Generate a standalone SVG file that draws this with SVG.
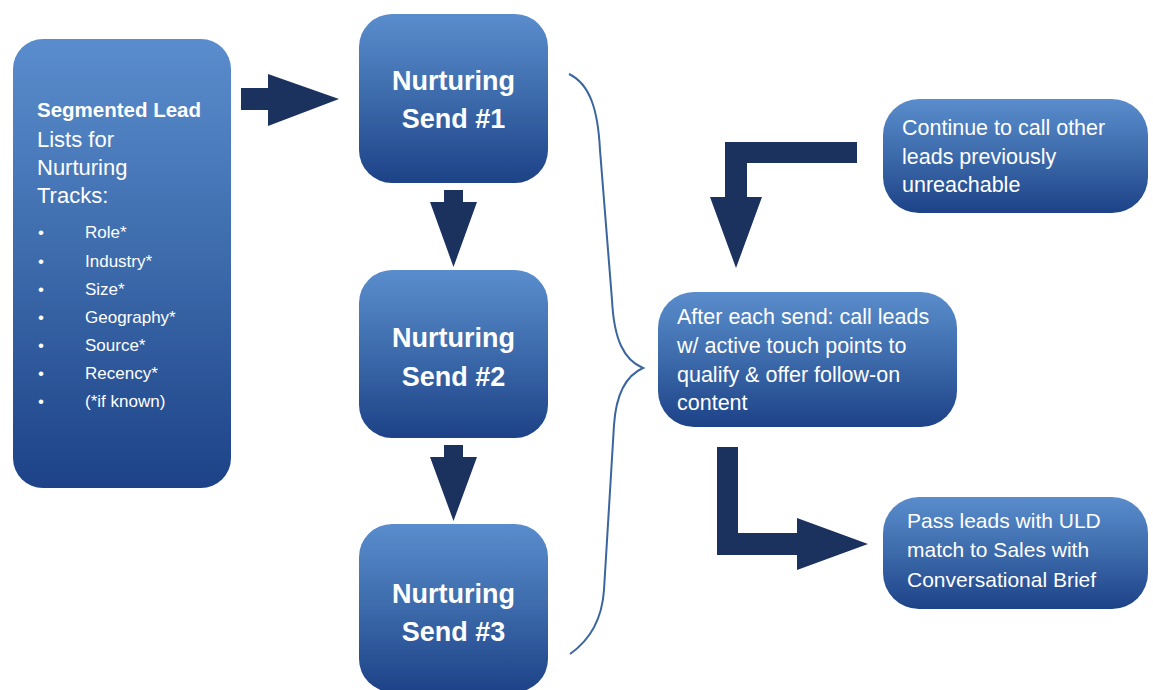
<svg xmlns="http://www.w3.org/2000/svg" width="1153" height="690" viewBox="0 0 1153 690">
<defs>
<linearGradient id="g" x1="0" y1="0" x2="0" y2="1">
<stop offset="0" stop-color="#5a8dcd"/>
<stop offset="0.5" stop-color="#3c6aab"/>
<stop offset="1" stop-color="#1d4287"/>
</linearGradient>
</defs>
<style>
.box{fill:url(#g);}
.arrow{fill:#1b325e;}
.t{font-family:"Liberation Sans",Arial,sans-serif;fill:#ffffff;font-size:21px;}
.h{font-family:"Liberation Sans",Arial,sans-serif;fill:#ffffff;font-size:20.5px;font-weight:bold;}
.l{font-family:"Liberation Sans",Arial,sans-serif;fill:#ffffff;font-size:22px;}
.m{font-family:"Liberation Sans",Arial,sans-serif;fill:#ffffff;font-size:21.5px;}
.n{font-family:"Liberation Sans",Arial,sans-serif;fill:#ffffff;font-size:27px;font-weight:bold;text-anchor:middle;}
.s{font-family:"Liberation Sans",Arial,sans-serif;fill:#ffffff;font-size:17px;}
.brace{fill:none;stroke:#3b659f;stroke-width:2;}
</style>
<rect width="1153" height="690" fill="#ffffff"/>
<g id="connectors">
<polygon class="arrow" points="241,88 268,88 268,74 339,99 268,126 268,110 241,110"/>
<polygon class="arrow" points="444,190 463,190 463,202 477,202 453.5,267 430,202 444,202"/>
<polygon class="arrow" points="444,445 463,445 463,457 477,457 453.5,521 430,457 444,457"/>
<polygon class="arrow" points="857,142 725,142 725,197 710,197 736,268 762,197 747,197 747,163 857,163"/>
<polygon class="arrow" points="717,447 738,447 738,533 797,533 797,518 868,544 797,570 797,555 717,555"/>
<path class="brace" d="M569,74 C590,84 598,110 600,150 L612,300 C614,340 624,360 643,368 C625,376 616,395 614,425 L604,590 C602,620 590,640 570,654"/>
</g>
<g id="lists">
<rect class="box" x="13" y="39" width="218" height="449" rx="30"/>
<text class="h" x="37" y="117">Segmented Lead</text>
<text class="l" x="37" y="147">Lists for</text>
<text class="l" x="37" y="175">Nurturing</text>
<text class="l" x="37" y="203">Tracks:</text>
<text class="s" x="38" y="238">•</text><text class="s" x="85" y="238">Role*</text>
<text class="s" x="38" y="267">•</text><text class="s" x="85" y="267">Industry*</text>
<text class="s" x="38" y="295">•</text><text class="s" x="85" y="295">Size*</text>
<text class="s" x="38" y="323">•</text><text class="s" x="85" y="323">Geography*</text>
<text class="s" x="38" y="351">•</text><text class="s" x="85" y="351">Source*</text>
<text class="s" x="38" y="379">•</text><text class="s" x="85" y="379">Recency*</text>
<text class="s" x="38" y="407">•</text><text class="s" x="85" y="407">(*if known)</text>
</g>
<g id="send1">
<rect class="box" x="359" y="14" width="189" height="169" rx="33"/>
<text class="n" x="453.5" y="90">Nurturing</text>
<text class="n" x="453.5" y="128">Send #1</text>
</g>
<g id="send2">
<rect class="box" x="359" y="270" width="189" height="168" rx="33"/>
<text class="n" x="453.5" y="347">Nurturing</text>
<text class="n" x="453.5" y="386">Send #2</text>
</g>
<g id="send3">
<rect class="box" x="359" y="524" width="189" height="168" rx="33"/>
<text class="n" x="453.5" y="603">Nurturing</text>
<text class="n" x="453.5" y="641">Send #3</text>
</g>
<g id="continue">
<rect class="box" x="883" y="99" width="265" height="114" rx="36"/>
<text class="m" x="902" y="135">Continue to call other</text>
<text class="m" x="902" y="164">leads previously</text>
<text class="m" x="902" y="192">unreachable</text>
</g>
<g id="after">
<rect class="box" x="658" y="292" width="299" height="135" rx="36"/>
<text class="m" x="677" y="324">After each send: call leads</text>
<text class="m" x="677" y="353">w/ active touch points to</text>
<text class="m" x="677" y="382">qualify &amp; offer follow-on</text>
<text class="m" x="677" y="410">content</text>
</g>
<g id="pass">
<rect class="box" x="883" y="497" width="265" height="112" rx="36"/>
<text class="t" x="907" y="528">Pass leads with ULD</text>
<text class="t" x="907" y="557">match to Sales with</text>
<text class="t" x="907" y="587">Conversational Brief</text>
</g>
</svg>
